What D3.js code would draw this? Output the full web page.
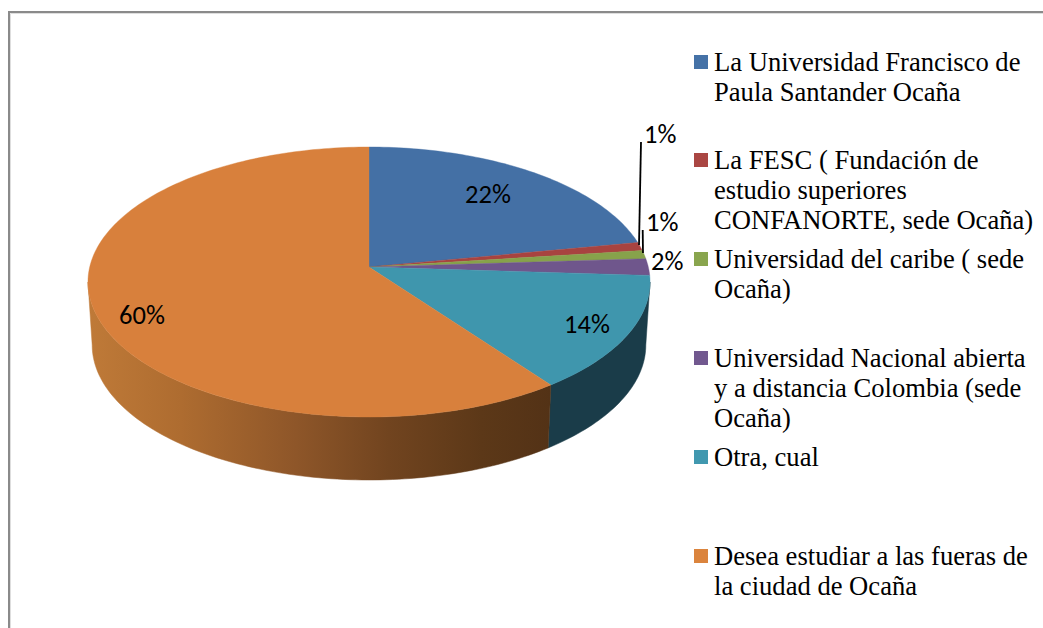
<!DOCTYPE html>
<html><head><meta charset="utf-8">
<script src="https://cdn.jsdelivr.net/npm/d3@7"></script>
<style>html,body{margin:0;padding:0;background:#fff;overflow:hidden}svg{display:block}</style>
</head><body><svg id="c" width="1043" height="628"></svg>
<script>
const categories = ["La Universidad Francisco de Paula Santander Ocaña","La FESC ( Fundación de estudio superiores CONFANORTE, sede Ocaña)","Universidad del caribe ( sede Ocaña)","Universidad Nacional abierta y a distancia Colombia (sede Ocaña)","Otra, cual","Desea estudiar a las fueras de la ciudad de Ocaña"];
const values = [22,1,1,2,13.9,60.1];
const valueLabels = ["22%","1%","1%","2%","14%","60%"];
const colors = ["#4572A7","#AA4643","#89A54E","#71588F","#4198AF","#DB843D"];
const topColors = ["#4470A5","#A84340","#87A24B","#6F568C","#3F96AD","#D8803C"];
const legendLines = [["La Universidad Francisco de","Paula Santander Ocaña"],["La FESC ( Fundación de","estudio superiores","CONFANORTE, sede Ocaña)"],["Universidad del caribe ( sede","Ocaña)"],["Universidad Nacional abierta","y a distancia Colombia (sede","Ocaña)"],["Otra, cual"],["Desea estudiar a las fueras de","la ciudad de Ocaña"]];
const legendY = [62,160,259,358,457,556];

const svg = d3.select("#c");
// frame
svg.append("path").attr("d","M9,628V12H1043").attr("fill","none").attr("stroke","#8a8a8a").attr("stroke-width",2);
svg.append("path").attr("d","M10.5,628V13.5H1043").attr("fill","none").attr("stroke","#dedede").attr("stroke-width",1);

const cx=369, cy=267, b=279.3, a=133.33, k=1/9, depth=63, shrink=0.985;
function proj(t,r=1,bottom=false){
  const u=r*Math.sin(t), v=r*Math.cos(t), d=1+k*v;
  const s=bottom?shrink:1;
  return [cx+b*u/d*s, cy-a*v/d+(bottom?depth:0)];
}
const arcs = d3.pie().sort(null).value(d=>d)(values);
const line = d3.line();
const samples=(t0,t1)=>{const n=Math.max(2,Math.ceil(Math.abs(t1-t0)/0.02));return d3.range(n+1).map(i=>t0+(t1-t0)*i/n)};

const defs=svg.append("defs");
const grad=defs.append("linearGradient").attr("id","orangeSide").attr("gradientUnits","userSpaceOnUse").attr("x1",88).attr("x2",551).attr("y1",0).attr("y2",0);
[[0,"#BF7A38"],[0.2,"#AE6C30"],[0.45,"#8E5629"],[0.65,"#71441F"],[0.85,"#5C3818"],[1,"#533216"]].forEach(s=>grad.append("stop").attr("offset",s[0]).attr("stop-color",s[1]));

const sideColors=[null,null,null,"#3a2c4c","#1A3C49","url(#orangeSide)"];
const tVisible=Math.PI/2+Math.asin(k);
arcs.forEach((d,i)=>{
  const t0=Math.max(d.startAngle,tVisible), t1=Math.min(d.endAngle,2*Math.PI-tVisible);
  if(t1<=t0||!sideColors[i])return;
  const ang=samples(t0,t1);
  const pts=ang.map(t=>proj(t)).concat(ang.slice().reverse().map(t=>proj(t,1,true)));
  svg.append("path").attr("d",line(pts)+"Z").attr("fill",sideColors[i]).attr("stroke",sideColors[i]).attr("stroke-width",0.5);
});
arcs.forEach((d,i)=>{
  const pts=[[cx,cy]].concat(samples(d.startAngle,d.endAngle).map(t=>proj(t)));
  svg.append("path").attr("d",line(pts)+"Z").attr("fill",topColors[i]).attr("stroke",topColors[i]).attr("stroke-width",0.4);
});

// leader lines
const leaders=[[[641,142],[639,245]],[[642.7,230],[643,253]]];
leaders.forEach(l=>svg.append("path").attr("d",line(l)).attr("stroke","#000").attr("stroke-width",1.8).attr("fill","none"));

// data labels
const labelPos=[[488,203],[644,143],[646,231],[651,270],[587,333],[142,324]];
valueLabels.forEach((t,i)=>{
  svg.append("text").attr("x",labelPos[i][0]).attr("y",labelPos[i][1]).attr("text-anchor",(i>=1&&i<=3)?"start":"middle")
   .attr("font-family","Carlito,Lato,sans-serif").attr("font-size",26.5).attr("fill","#000").text(t);
});

// legend
legendLines.forEach((ls,i)=>{
  svg.append("rect").attr("x",694).attr("y",legendY[i]-7).attr("width",14).attr("height",14).attr("fill",colors[i]);
  ls.forEach((s,j)=>{
    svg.append("text").attr("x",714).attr("y",legendY[i]+9+j*30).attr("font-family","'Liberation Serif',serif").attr("font-size",26.6).attr("fill","#000").text(s);
  });
});
</script></body></html>
